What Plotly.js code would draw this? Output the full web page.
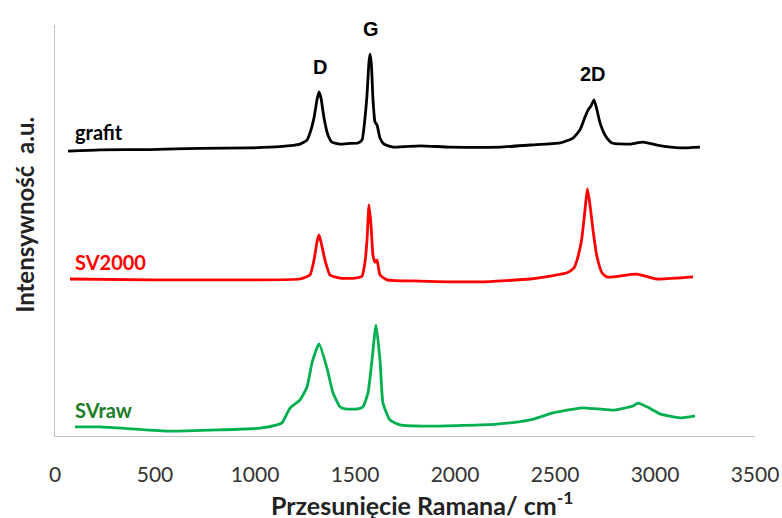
<!DOCTYPE html>
<html>
<head>
<meta charset="utf-8">
<script src="https://cdn.plot.ly/plotly-3.0.1.min.js"></script>
<style>html,body{margin:0;padding:0;background:#fff;}#chart{width:782px;height:518px;}</style>
</head>
<body>
<div id="chart"></div>
<script>
// Raman shift (cm-1) and offset intensities (a.u.)
const grafitX = [65,225,475,725,975,1125,1225,1260,1280,1295,1310,1320,1330,1345,1365,1385,1425,1475,1515,1535,1550,1560,1570,1575,1582,1590,1600,1610,1625,1645,1690,1825,1975,2225,2375,2525,2590,2625,2650,2665,2680,2695,2710,2725,2745,2760,2785,2875,2940,3010,3125,3225];
const grafitY = [69.3,69.6,69.7,70.0,70.1,70.4,71.0,72.0,74.5,77.4,81.8,83.7,82.2,77.4,73.2,71.5,71.0,71.2,71.3,72.0,77.4,83.0,91.0,92.9,90.3,81.8,76.4,75.7,72.5,71.0,70.3,70.6,70.3,70.3,70.8,71.3,72.5,74.5,77.6,79.3,80.3,81.8,79.3,76.2,73.7,72.5,71.3,71.0,71.5,70.8,70.1,70.3];

const sv2000X = [75,475,975,1225,1275,1295,1310,1320,1330,1350,1375,1425,1500,1535,1550,1560,1570,1580,1590,1600,1610,1625,1660,1825,2125,2375,2475,2560,2595,2610,2625,2635,2650,2662,2675,2690,2710,2735,2760,2910,3010,3190];
const sv2000Y = [38.2,38.0,38.0,38.2,39.2,42.8,47.2,48.9,47.2,42.8,39.2,38.4,38.4,38.9,42.3,47.7,56.2,51.3,44.0,42.3,42.8,39.2,38.0,37.7,37.5,38.2,38.9,39.7,40.9,42.8,45.7,48.4,55.0,60.1,56.2,50.1,43.6,39.7,38.7,39.4,38.2,38.7];

const svrawX = [100,225,560,825,1025,1110,1135,1175,1225,1260,1285,1320,1360,1390,1425,1450,1515,1540,1565,1585,1605,1625,1640,1675,1725,1875,2210,2375,2490,2625,2660,2790,2890,2915,2960,3025,3125,3200];
const svrawY = [2.2,2.2,1.2,1.5,1.9,2.7,3.2,6.8,8.8,11.9,17.8,22.4,16.5,10.5,7.1,6.6,6.6,7.1,10.5,18.5,27.0,18.5,8.0,3.9,2.7,2.4,2.9,3.9,5.6,6.8,6.8,6.3,7.3,8.0,7.1,5.4,4.4,4.9];

const xTicks = [0,500,1000,1500,2000,2500,3000,3500];
const seriesNames = ["grafit","SV2000","SVraw"];
const peakNames = ["D","G","2D"];
const peakX = [1325,1580,2690];
const peakY = [89.7,99.0,88.0];
const seriesLabelX = [90,90,90];
const seriesLabelY = [74.0,42.3,6.3];
const xTitle = "Przesunięcie Ramana/ cm<sup>-1</sup>";
const yTitle = "Intensywność  a.u.";

const lineColors = ["#000000","#ff0000","#00b050"];
const labelColors = ["#000000","#ff0000","#1a7d26"];
const sans = "Lato, 'Open Sans', sans-serif";

const traces = [
  {x: grafitX, y: grafitY, name: seriesNames[0]},
  {x: sv2000X, y: sv2000Y, name: seriesNames[1]},
  {x: svrawX, y: svrawY, name: seriesNames[2]}
].map((t,i)=>Object.assign(t,{type:"scatter",mode:"lines",line:{color:lineColors[i],width:2.8,shape:"spline",smoothing:0.5},hoverinfo:"skip"}));

const annotations = [];
peakNames.forEach((n,i)=>annotations.push({x:peakX[i],y:peakY[i],xref:"x",yref:"y",text:"<b>"+n+"</b>",showarrow:false,font:{family:"'Liberation Sans', Arial, sans-serif",size:20,color:"#000"}}));
seriesNames.forEach((n,i)=>annotations.push({x:seriesLabelX[i],y:seriesLabelY[i],xref:"x",yref:"y",xanchor:"left",yanchor:"middle",text:"<b>"+n+"</b>",showarrow:false,font:{family:sans,size:20,color:labelColors[i]}}));
annotations.push({x:0.524,y:-0.165,xref:"paper",yref:"paper",xanchor:"center",yanchor:"middle",text:"<b>"+xTitle+"</b>",showarrow:false,borderpad:0,font:{family:sans,size:25,color:"#222"}});
annotations.push({x:-0.043,y:0.538,xref:"paper",yref:"paper",xanchor:"center",yanchor:"middle",textangle:-90,text:"<b>"+yTitle+"</b>",showarrow:false,borderpad:0,font:{family:sans,size:24,color:"#222"}});

const layout = {
  width:782, height:518,
  margin:{l:55,r:27,t:25,b:82},
  paper_bgcolor:"#fff", plot_bgcolor:"#fff",
  showlegend:false,
  xaxis:{range:[0,3500],tickvals:xTicks,ticktext:xTicks.map(String),showgrid:false,zeroline:false,
         showline:true,linecolor:"#c0c0c0",linewidth:1.3,ticks:"outside",ticklen:19,tickcolor:"rgba(0,0,0,0)",
         tickfont:{family:sans,size:21,color:"#333"}},
  yaxis:{range:[0,100],showticklabels:false,ticks:"",showgrid:false,zeroline:false,showline:true,linecolor:"#c0c0c0",linewidth:1.3},
  annotations:annotations
};
Plotly.newPlot("chart",traces,layout,{displayModeBar:false,staticPlot:true});
</script>
</body>
</html>
